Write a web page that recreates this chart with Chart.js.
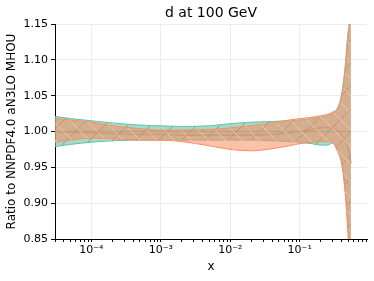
<!DOCTYPE html>
<html><head><meta charset="utf-8">
<script src="https://cdn.jsdelivr.net/npm/chart.js@4.4.0/dist/chart.umd.min.js"></script>
<style>html,body{margin:0;padding:0;background:#fff}#w{width:374px;height:281px}</style>
</head><body><div id="w"><canvas id="c" width="374" height="281"></canvas></div>
<script>
const xs = [3e-5,5e-5,1e-4,2e-4,5e-4,1e-3,2e-3,5e-3,1e-2,2e-2,4e-2,7e-2,0.1,0.15,0.2,0.25,0.3,0.35,0.4,0.45,0.5,0.52,0.545];
const greenUpper = [1.021,1.018,1.015,1.012,1.009,1.008,1.007,1.008,1.011,1.013,1.014,1.015,1.016,1.018,1.020,1.022,1.026,1.033,1.052,1.090,1.142,1.165,1.4];
const greenLower = [0.979,0.982,0.985,0.987,0.988,0.988,0.988,0.988,0.988,0.988,0.987,0.986,0.985,0.983,0.981,0.981,0.984,0.975,0.958,0.920,0.860,0.83,0.7];
const greenCentral = xs.map(() => 1.0);
const orangeUpper = [1.018,1.016,1.013,1.008,1.004,1.002,1.002,1.003,1.005,1.008,1.012,1.016,1.018,1.020,1.022,1.024,1.027,1.032,1.048,1.085,1.135,1.16,1.4];
const orangeLower = [0.985,0.988,0.991,0.990,0.988,0.988,0.986,0.980,0.975,0.973,0.976,0.980,0.983,0.985,0.986,0.986,0.984,0.972,0.955,0.915,0.850,0.82,0.7];
const orangeCentral = [1.000,0.999,0.998,0.997,0.996,0.996,0.995,0.995,0.995,0.995,0.996,0.998,1.000,1.003,1.005,1.006,1.004,1.001,0.995,0.986,0.975,0.968,0.955];
const yTicks = [0.85,0.90,0.95,1.00,1.05,1.10,1.15];
const xMajor = [1e-4,1e-3,1e-2,1e-1];
const xMajorLabels = ['10\u207B\u2074','10\u207B\u00B3','10\u207B\u00B2','10\u207B\u00B9'];
const title = 'd at 100 GeV';
const xTitle = 'x';
const yTitle = 'Ratio to NNPDF4.0 aN3LO MHOU';

const GREEN = '#66c2a5', ORANGE = '#fc8d62';
function hatch(bg, line, dir, size) {
  const c = document.createElement('canvas'); c.width = size; c.height = size;
  const g = c.getContext('2d');
  g.fillStyle = bg; g.fillRect(0,0,size,size);
  g.strokeStyle = line; g.lineWidth = 0.9;
  g.beginPath();
  if (dir === '/') {
    for (const o of [-size,0,size]) { g.moveTo(o,size); g.lineTo(o+size,0); }
  } else {
    for (const o of [-size,0,size]) { g.moveTo(o,0); g.lineTo(o+size,size); }
  }
  g.stroke();
  return g.createPattern(c,'repeat');
}
const ctx = document.getElementById('c').getContext('2d');
const greenPat = hatch('rgba(102,194,165,0.6)','rgba(90,110,100,0.6)','/',23);
const orangePat = hatch('rgba(252,141,98,0.55)','rgba(255,195,170,0.95)','\\',17);

const minorTicks = [];
for (let e=-5;e<=-1;e++) for (let k=1;k<=9;k++){ const v=k*Math.pow(10,e); if (v>=3e-5 && v<=0.93) minorTicks.push(v); }

function pts(arr){ return xs.map((x,i)=>({x:x,y:arr[i]})); }
const line = {pointRadius:0, cubicInterpolationMode:'monotone', borderWidth:1};
const titlePlugin = {id:'tp', afterDraw(ch){ const a=ch.chartArea; const g=ch.ctx; g.save(); g.font='14px "DejaVu Sans"'; g.fillStyle='#000'; g.textAlign='center'; g.textBaseline='middle'; g.fillText(title,(a.left+a.right)/2,13); g.restore(); }};

new Chart(ctx,{
  type:'line',
  data:{datasets:[
    Object.assign({data:pts(orangeUpper), borderColor:ORANGE, backgroundColor:orangePat, fill:'+1'}, line),
    Object.assign({data:pts(orangeLower), borderColor:ORANGE, fill:false}, line),
    Object.assign({data:pts(greenUpper), borderColor:GREEN, backgroundColor:greenPat, fill:'+1'}, line),
    Object.assign({data:pts(greenLower), borderColor:GREEN, fill:false}, line),
    Object.assign({data:pts(orangeCentral), borderColor:ORANGE, fill:false}, line, {borderWidth:1.6}),
    Object.assign({data:pts(greenCentral), borderColor:GREEN, fill:false}, line, {borderWidth:1.6})
  ]},
  options:{
    responsive:false, animation:false, devicePixelRatio:1,
    layout:{padding:{left:0,right:7,top:24,bottom:0}},
    plugins:{legend:{display:false}, tooltip:{enabled:false}, title:{display:false}},
    scales:{
      x:{type:'logarithmic', min:3e-5, max:0.93,
        afterBuildTicks(s){ s.ticks = minorTicks.map(v=>({value:v, major: xMajor.some(m=>Math.abs(m-v)/m<1e-6)})); },
        afterFit(s){ s.height = 42; },
        ticks:{autoSkip:false, maxRotation:0, padding:2, color:'#000', font:{family:'DejaVu Sans', size:11},
          callback(v){ const i = xMajor.findIndex(m=>Math.abs(m-v)/m<1e-6); return i>=0 ? xMajorLabels[i] : ''; }},
        grid:{drawOnChartArea:true, color(c){ const v=c.tick&&c.tick.value; return xMajor.some(m=>Math.abs(m-v)/m<1e-6) ? '#ececec' : 'rgba(0,0,0,0)'; },
          tickColor:'#000', tickLength:3, lineWidth:1},
        border:{color:'#000', width:1},
        title:{display:true, text:xTitle, color:'#000', font:{family:'DejaVu Sans', size:12}, padding:{top:0,bottom:7}}
      },
      y:{type:'linear', min:0.85, max:1.15,
        afterBuildTicks(s){ s.ticks = yTicks.map(v=>({value:v})); },
        afterFit(s){ s.width = 55; },
        ticks:{padding:3, color:'#000', font:{family:'DejaVu Sans', size:11}, callback(v){ return Number(v).toFixed(2); }},
        grid:{color:'#ececec', tickColor:'#000', tickLength:4},
        border:{color:'#000', width:1},
        title:{display:true, text:yTitle, color:'#000', font:{family:'DejaVu Sans', size:12}, padding:{top:5,bottom:0}}
      }
    }
  },
  plugins:[titlePlugin]
});
</script></body></html>
